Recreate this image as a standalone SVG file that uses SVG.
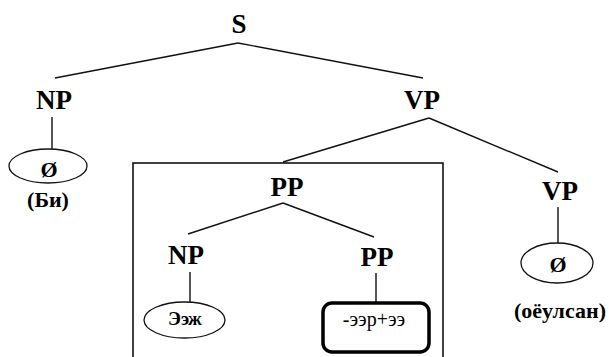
<svg xmlns="http://www.w3.org/2000/svg" width="611" height="357" viewBox="0 0 611 357" font-family="Times New Roman, Liberation Serif, serif">
<rect width="611" height="357" fill="#fff"/>
<g id="box"><rect x="133" y="163" width="310" height="210" fill="none" stroke="#111" stroke-width="1.6"/></g>
<g id="connectors" stroke="#111" stroke-width="1.4" fill="none">
<line x1="238" y1="43" x2="55" y2="78"/>
<line x1="238" y1="43" x2="423" y2="78"/>
<line x1="52" y1="117" x2="52" y2="149"/>
<line x1="429" y1="118" x2="283" y2="162"/>
<line x1="429" y1="118" x2="558" y2="172"/>
<line x1="283" y1="203" x2="188" y2="234"/>
<line x1="283" y1="203" x2="374" y2="237"/>
<line x1="190" y1="272" x2="190" y2="302"/>
<line x1="376" y1="273" x2="376" y2="303"/>
<line x1="558" y1="207" x2="558" y2="243"/>
</g>
<g id="S"><text x="239" y="33" font-family="Times New Roman, Liberation Serif, serif" font-weight="bold" font-size="27" text-anchor="middle">S</text></g>
<g id="NP1"><text x="54" y="109" font-family="Times New Roman, Liberation Serif, serif" font-weight="bold" font-size="27" text-anchor="middle">NP</text></g>
<g id="VP1"><text x="422" y="109" font-family="Times New Roman, Liberation Serif, serif" font-weight="bold" font-size="27" text-anchor="middle">VP</text></g>
<g id="zero1">
<ellipse cx="48" cy="166" rx="39" ry="17" fill="#fff" stroke="#111" stroke-width="1.3"/>
<text x="49" y="177" font-family="Times New Roman, Liberation Serif, serif" font-weight="bold" font-size="22" text-anchor="middle">Ø</text>
<text x="48" y="207" font-family="Times New Roman, Liberation Serif, serif" font-weight="bold" font-size="22" text-anchor="middle">(Би)</text>
</g>
<g id="PP1"><text x="287" y="196" font-family="Times New Roman, Liberation Serif, serif" font-weight="bold" font-size="27" text-anchor="middle">PP</text></g>
<g id="VP2"><text x="560" y="200" font-family="Times New Roman, Liberation Serif, serif" font-weight="bold" font-size="27" text-anchor="middle">VP</text></g>
<g id="zero2">
<ellipse cx="557" cy="263" rx="36" ry="20" fill="#fff" stroke="#111" stroke-width="1.3"/>
<text x="558" y="272" font-family="Times New Roman, Liberation Serif, serif" font-weight="bold" font-size="22" text-anchor="middle">Ø</text>
<text x="560" y="318" font-family="Times New Roman, Liberation Serif, serif" font-weight="bold" font-size="22" text-anchor="middle">(оёулсан)</text>
</g>
<g id="NP2"><text x="186" y="264" font-family="Times New Roman, Liberation Serif, serif" font-weight="bold" font-size="27" text-anchor="middle">NP</text></g>
<g id="PP2"><text x="377" y="266" font-family="Times New Roman, Liberation Serif, serif" font-weight="bold" font-size="27" text-anchor="middle">PP</text></g>
<g id="eej">
<ellipse cx="184.5" cy="320" rx="40.5" ry="18" fill="#fff" stroke="#111" stroke-width="1.3"/>
<text x="185" y="325" font-family="Times New Roman, Liberation Serif, serif" font-weight="bold" font-size="19" text-anchor="middle">Ээж</text>
</g>
<g id="suffix">
<rect x="323" y="303" width="106" height="49" rx="9" fill="#fff" stroke="#000" stroke-width="3.5"/>
<text x="374" y="326" font-family="Times New Roman, Liberation Serif, serif" font-size="20" text-anchor="middle">-ээр+ээ</text>
</g>
</svg>
